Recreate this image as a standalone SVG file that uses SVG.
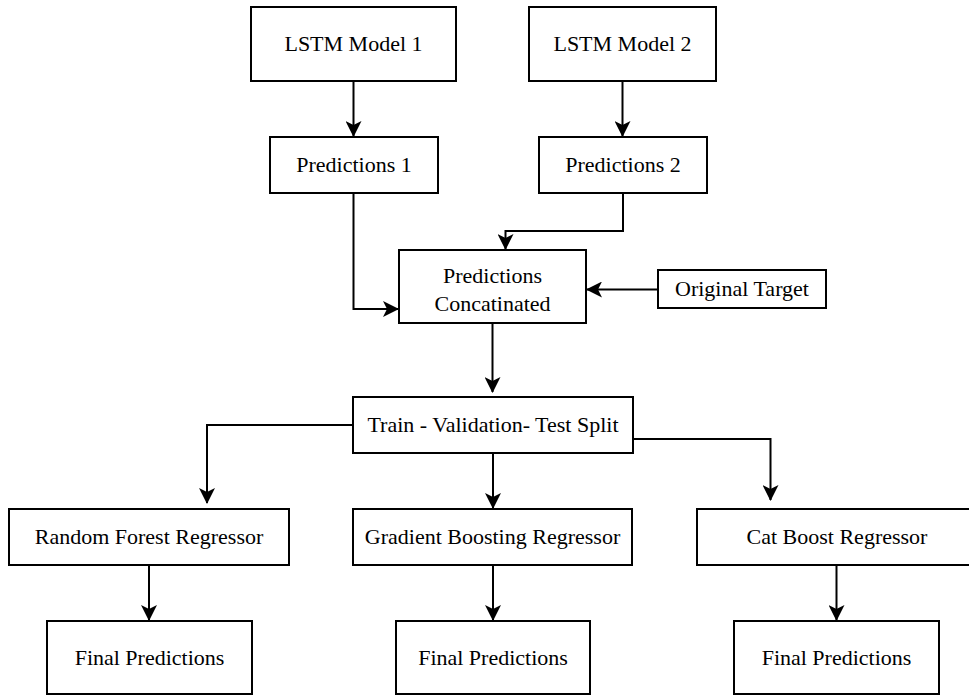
<svg xmlns="http://www.w3.org/2000/svg" width="969" height="695" viewBox="0 0 969 695">
<style>
.box{fill:#fff;stroke:#000;stroke-width:2}
.lbl{font-family:"Liberation Serif","Times New Roman",serif;font-size:22px;fill:#000;text-anchor:middle}
.con{fill:none;stroke:#000;stroke-width:2;marker-end:url(#arr)}
</style>
<defs>
<marker id="arr" viewBox="0 0 16 16" refX="15" refY="8" markerWidth="16" markerHeight="16" markerUnits="userSpaceOnUse" orient="auto">
<path d="M0,0 L16,8 L0,16 L4,8 z" fill="#000"/>
</marker>
</defs>
<rect width="969" height="695" fill="#fff"/>
<g id="connectors">
<path class="con" d="M353.5,81 V136"/>
<path class="con" d="M622.5,81 V136"/>
<path class="con" d="M353.5,193 V309 H398"/>
<path class="con" d="M623,193 V231 H505.5 V249"/>
<path class="con" d="M658,289.5 H587"/>
<path class="con" d="M492.5,323 V392"/>
<path class="con" d="M353,425 H207 V503"/>
<path class="con" d="M493,453 V508"/>
<path class="con" d="M633,439 H770.5 V500"/>
<path class="con" d="M149,565 V620"/>
<path class="con" d="M493,565 V620"/>
<path class="con" d="M836.5,565 V620"/>
</g>
<g id="lstm1"><rect class="box" x="251" y="7" width="205" height="74"/><text class="lbl" x="353.5" y="51">LSTM Model 1</text></g>
<g id="lstm2"><rect class="box" x="529" y="7" width="187" height="74"/><text class="lbl" x="622.5" y="51">LSTM Model 2</text></g>
<g id="pred1"><rect class="box" x="270" y="137" width="168" height="56"/><text class="lbl" x="354" y="172">Predictions 1</text></g>
<g id="pred2"><rect class="box" x="539" y="137" width="168" height="56"/><text class="lbl" x="623" y="172">Predictions 2</text></g>
<g id="concat"><rect class="box" x="399" y="250" width="187" height="73"/><text class="lbl" x="492.5" y="283">Predictions</text><text class="lbl" x="492.5" y="311">Concatinated</text></g>
<g id="target"><rect class="box" x="658" y="270" width="168" height="38"/><text class="lbl" x="742" y="296">Original Target</text></g>
<g id="split"><rect class="box" x="353" y="397" width="280" height="56"/><text class="lbl" x="493" y="432">Train - Validation- Test Split</text></g>
<g id="rf"><rect class="box" x="9" y="509" width="280" height="56"/><text class="lbl" x="149" y="544">Random Forest Regressor</text></g>
<g id="gb"><rect class="box" x="353" y="509" width="279" height="56"/><text class="lbl" x="492.5" y="544">Gradient Boosting Regressor</text></g>
<g id="cb"><rect class="box" x="697" y="509" width="280" height="56"/><text class="lbl" x="837" y="544">Cat Boost Regressor</text></g>
<g id="final1"><rect class="box" x="47" y="621" width="205" height="73"/><text class="lbl" x="149.5" y="665">Final Predictions</text></g>
<g id="final2"><rect class="box" x="396" y="621" width="194" height="73"/><text class="lbl" x="493" y="665">Final Predictions</text></g>
<g id="final3"><rect class="box" x="734" y="621" width="205" height="73"/><text class="lbl" x="836.5" y="665">Final Predictions</text></g>
</svg>
